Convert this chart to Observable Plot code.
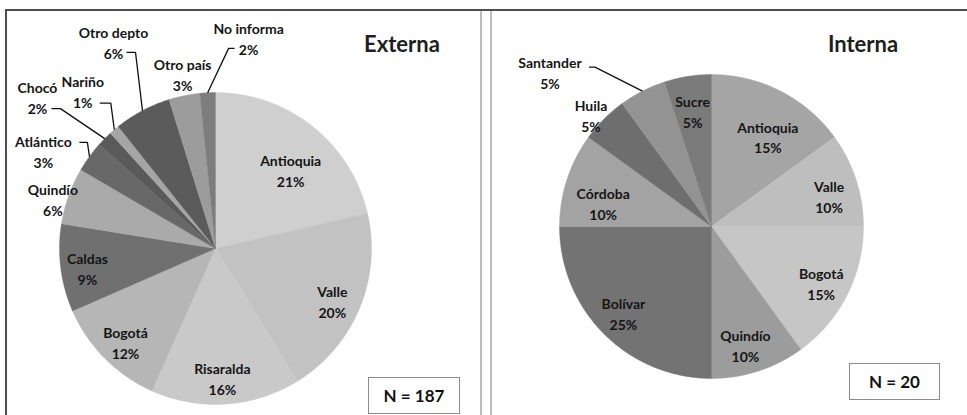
<!DOCTYPE html>
<html>
<head>
<meta charset="utf-8">
<script src="https://cdn.jsdelivr.net/npm/d3@7"></script>
<script src="https://cdn.jsdelivr.net/npm/@observablehq/plot@0.6"></script>
<style>
  html, body { margin: 0; padding: 0; background: #fff; }
  body { width: 967px; height: 415px; overflow: hidden; position: relative; font-family: Lato, "Open Sans", sans-serif; }
  #chart { position: absolute; left: 0; top: 0; }
  .deco { position: absolute; }
  .title { position: absolute; transform: translate(-50%, -50%); font-size: 22px; font-weight: 700; color: #1e1e1e; white-space: nowrap; }
  .nbox { position: absolute; box-sizing: border-box; border: 1.5px solid #8c8c8c; background: #fff;
          display: flex; align-items: center; justify-content: center; font-size: 17px; font-weight: 700; color: #111; }
</style>
</head>
<body>
<div id="chart"></div>
<div class="deco" style="left:5px;top:9px;width:962px;height:2px;background:#4e4e4e"></div>
<div class="deco" style="left:5px;top:9px;width:2px;height:406px;background:#4e4e4e"></div>
<div class="deco" style="left:480px;top:11px;width:2px;height:404px;background:#bdbdbd"></div>
<div class="deco" style="left:490px;top:11px;width:2px;height:404px;background:#bdbdbd"></div>
<div class="title" id="t1" style="left:402px;top:43px"></div>
<div class="title" id="t2" style="left:863px;top:43px"></div>
<div class="nbox" id="n1" style="left:368px;top:377px;width:92px;height:37px"></div>
<div class="nbox" id="n2" style="left:849px;top:363px;width:91px;height:37px"></div>
<script>
// ---- data ----
const titles = ["Externa", "Interna"];

const externaNames  = ["Antioquia", "Valle", "Risaralda", "Bogotá", "Caldas", "Quindío", "Atlántico", "Chocó", "Nariño", "Otro depto", "Otro país", "No informa"];
const externaCounts = [40, 37, 29, 22, 17, 11, 6, 3, 2, 11, 6, 3];
const externaColors = ["#cfcfcf", "#c2c2c2", "#c9c9c9", "#b6b6b6", "#707070", "#aaaaaa", "#686868", "#5a5a5a", "#a5a5a5", "#5b5b5b", "#9c9c9c", "#7d7d7d"];

const internaNames  = ["Antioquia", "Valle", "Bogotá", "Quindío", "Bolívar", "Córdoba", "Huila", "Santander", "Sucre"];
const internaCounts = [3, 2, 3, 2, 5, 2, 1, 1, 1];
const internaColors = ["#a5a5a5", "#bebebe", "#c6c6c6", "#9c9c9c", "#737373", "#a3a3a3", "#6e6e6e", "#939393", "#7b7b7b"];

// ---- layout (label placement: radius fraction, angle tweak in degrees, optional leader [elbowDx, elbowDy, endDx, endDy]) ----
const externaLayout = [
  {rf: 0.70, da: 5}, {rf: 0.82, da: 1.4}, {rf: 0.83, da: 0.8}, {rf: 0.83, da: -1.2}, {rf: 0.83, da: -1.2},
  {rf: 1.09, da: -2.7},
  {rf: 1.27, da: -6.4, leader: [44, -8, 36, -8]},
  {rf: 1.50, da: -4.3, leader: [23, 12, 14, 12]},
  {rf: 1.32, da: 0.3, leader: [28, 12, 17, 12]},
  {rf: 1.48, da: 1.7, leader: [22, 11, 13, 11]},
  {rf: 1.14, da: 0.9},
  {rf: 1.37, da: 11.8, leader: [-20, 11, -14, 11]}
];
const internaLayout = [
  {rf: 0.70, da: 5}, {rf: 0.80, da: 3.2}, {rf: 0.81, da: 0}, {rf: 0.81, da: 2}, {rf: 0.81, da: 0.7},
  {rf: 0.73, da: -5.6}, {rf: 1.08, da: -2.2},
  {rf: 1.47, da: -19.3, leader: [45, -5, 39, -5]},
  {rf: 0.77, da: -0.3}
];

const W = 967, H = 415;
const panels = [
  {key: "E", names: externaNames, counts: externaCounts, colors: externaColors, layout: externaLayout, cx: 215, cy: 248, r: 156},
  {key: "I", names: internaNames, counts: internaCounts, colors: internaColors, layout: internaLayout, cx: 711, cy: 226, r: 152}
];

const slicePts = [], labels = [], leaders = [], colorDomain = [], colorRange = [];
for (const p of panels) {
  const N = d3.sum(p.counts);
  let cum = 0;
  p.names.forEach((name, i) => {
    const k = p.key + "|" + name;
    colorDomain.push(k); colorRange.push(p.colors[i]);
    const a0 = cum / N * 2 * Math.PI; cum += p.counts[i]; const a1 = cum / N * 2 * Math.PI;
    const steps = Math.max(2, Math.ceil((a1 - a0) / (Math.PI / 360)));
    slicePts.push({k, x: p.cx, y: p.cy});
    for (let s = 0; s <= steps; s++) {
      const a = a0 + (a1 - a0) * s / steps;
      slicePts.push({k, x: p.cx + p.r * Math.sin(a), y: p.cy - p.r * Math.cos(a)});
    }
    slicePts.push({k, x: p.cx, y: p.cy});
    const L = p.layout[i];
    const amid = (a0 + a1) / 2;
    const am = amid + L.da * Math.PI / 180;
    const lx = p.cx + p.r * L.rf * Math.sin(am), ly = p.cy - p.r * L.rf * Math.cos(am);
    labels.push({x: lx, y: ly, text: name + "\n" + Math.round(p.counts[i] / N * 100) + "%"});
    if (L.leader) {
      leaders.push({k, x: p.cx + p.r * Math.sin(amid), y: p.cy - p.r * Math.cos(amid)});
      leaders.push({k, x: lx + L.leader[0], y: ly + L.leader[1]});
      leaders.push({k, x: lx + L.leader[2], y: ly + L.leader[3]});
    }
  });
  p.N = N;
}

const chart = Plot.plot({
  width: W, height: H,
  margin: 0,
  x: {domain: [0, W], range: [0, W], axis: null},
  y: {domain: [0, H], range: [0, H], axis: null},
  color: {type: "ordinal", domain: colorDomain, range: colorRange},
  style: {fontFamily: "Lato, 'Open Sans', sans-serif", background: "transparent"},
  marks: [
    Plot.line(slicePts, {x: "x", y: "y", z: "k", fill: "k", stroke: "k", strokeWidth: 0.4, curve: "linear"}),
    Plot.line(leaders, {x: "x", y: "y", z: "k", stroke: "#111", strokeWidth: 1.3, strokeLinecap: "butt", strokeLinejoin: "miter"}),
    Plot.text(labels, {x: "x", y: "y", text: "text", fontSize: 14, fontWeight: "bold", lineHeight: 1.5, fill: "#151515"})
  ]
});
document.getElementById("chart").appendChild(chart);
document.getElementById("t1").textContent = titles[0];
document.getElementById("t2").textContent = titles[1];
document.getElementById("n1").textContent = "N = " + panels[0].N;
document.getElementById("n2").textContent = "N = " + panels[1].N;
</script>
</body>
</html>
